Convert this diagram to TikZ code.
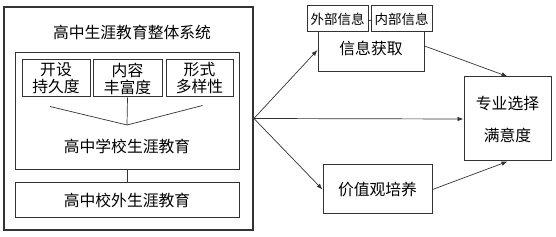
\documentclass[tikz,border=0pt]{standalone}
\usepackage{fontspec}
\setmainfont{Noto Sans CJK SC}
\usetikzlibrary{arrows.meta,positioning}
\definecolor{framegray}{HTML}{333333}
\tikzset{
  box/.style={draw=framegray,fill=white,line width=1pt,inner sep=0pt,align=center,font=\fontsize{15.8}{17}\selectfont},
  tagbox/.style={box,font=\fontsize{13.5}{15}\selectfont},
  label/.style={inner sep=0pt,font=\fontsize{15.8}{17}\selectfont},
  link/.style={framegray,line width=0.7pt},
  flow/.style={framegray,line width=0.7pt,-{Latex[length=6pt,width=4.5pt]}}
}
\begin{document}
\begin{tikzpicture}[x=1pt,y=-1pt]
\useasboundingbox (0,0) rectangle (556,237);
% left block: career education system
\node[box,line width=1.8pt,minimum width=249pt,minimum height=223pt] (system) at (128.5,118.5) {};
\node[label] (title) at (132,32) {高中生涯教育整体系统};
\node[box,minimum width=224pt,minimum height=117pt] (school) at (127,111.5) {};
\node[box,minimum width=68pt,minimum height=37pt] (duration) at (56,78.5) {开设\\持久度};
\node[box,minimum width=69pt,minimum height=37pt] (richness) at (127.5,78.5) {内容\\丰富度};
\node[box,minimum width=67pt,minimum height=37pt] (variety) at (199.5,78.5) {形式\\多样性};
\coordinate (merge) at (127,125);
\draw[link] ([xshift=-6pt,yshift=-9pt]duration.south) -- (merge);
\draw[link] (richness.south) -- (merge);
\draw[link] ([xshift=3pt,yshift=-8pt]variety.south) -- (merge);
\node[label] (schoolname) at (127,146) {高中学校生涯教育};
\node[box,minimum width=224pt,minimum height=35pt] (outside) at (127,200.5) {高中校外生涯教育};
\draw[link] (school.south) -- (outside.north);
% right block: mediators and outcome
\node[box,minimum width=106pt,minimum height=51pt,text depth=0pt] (info) at (371,46) {\raisebox{-3pt}{信息获取}};
\node[tagbox,minimum width=61pt,minimum height=26pt] (external) at (337.5,19) {外部信息};
\node[tagbox,minimum width=61pt,minimum height=26pt] (internal) at (401.5,19) {内部信息};
\node[box,minimum width=109pt,minimum height=49pt] (values) at (377.5,189.5) {价值观培养};
\node[box,minimum width=87pt,minimum height=84pt,font=\fontsize{15.8}{32}\selectfont] (satisfaction) at (507.5,119) {专业选择\\满意度};
\draw[flow] (system.east) -- ([yshift=-4pt]info.west);
\draw[flow] (system.east) -- (satisfaction.west);
\draw[flow] (system.east) -- (values.west);
\draw[flow] (info.east) -- (satisfaction.north);
\draw[flow] (values.east) -- (satisfaction.south);
\end{tikzpicture}
\end{document}
